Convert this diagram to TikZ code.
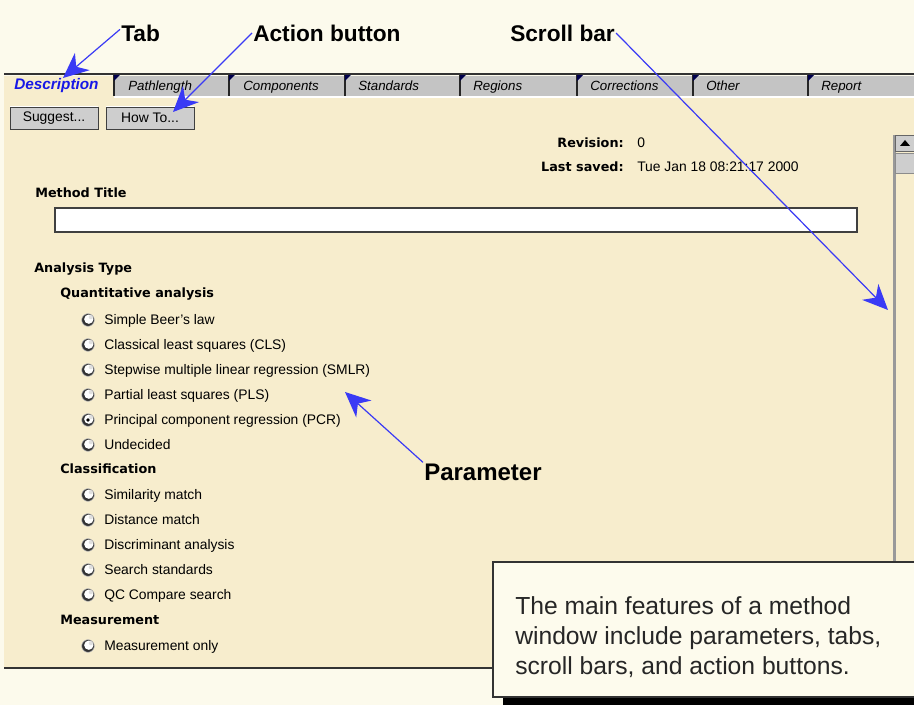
\documentclass[tikz,border=0pt]{standalone}
\usepackage{fontspec}
\setmainfont{Liberation Sans}
\newfontfamily\uiboldfont{DejaVu Sans}
\usepackage{xcolor}
\usepackage{tikz}
\usetikzlibrary{arrows.meta,calc}

\definecolor{pagebg}{RGB}{252,250,236}
\definecolor{panelbg}{RGB}{247,237,205}
\definecolor{tabgrey}{RGB}{196,196,196}
\definecolor{btngrey}{RGB}{206,206,206}
\definecolor{pointblue}{RGB}{58,58,245}
\definecolor{tabblue}{RGB}{24,24,230}
\definecolor{calloutbg}{RGB}{253,251,237}

\tikzset{
  uitext/.style={anchor=west, inner sep=0.75pt, text height=1.6ex, text depth=0.4ex, font=\fontsize{10.4}{12}\selectfont},
  uibold/.style={anchor=west, inner sep=0.75pt, text height=1.6ex, text depth=0.4ex, font=\uiboldfont\fontsize{9.6}{12}\selectfont\bfseries},
  tabtext/.style={anchor=west, inner sep=0.75pt, text height=1.6ex, text depth=0.4ex, font=\fontsize{10}{12}\selectfont\itshape},
  button/.style={draw=black!75, fill=btngrey, minimum width=66pt, minimum height=16.5pt, inner sep=0pt,
    font=\fontsize{10.4}{12}\selectfont,
    path picture={\draw[white, line width=1.2pt] (path picture bounding box.south west) -- (path picture bounding box.north west) -- (path picture bounding box.north east);}},
  radio/.style={circle, draw=black!25, fill=black!80, minimum size=9.5pt, inner sep=0pt,
    path picture={\fill[white] ($(path picture bounding box.center)!0.13!(path picture bounding box.north east)$) circle (3.5pt);
                  \fill[black!12] ($(path picture bounding box.center)!0.45!(path picture bounding box.north east)$) circle (1.6pt);}},
  biglabel/.style={anchor=west, inner sep=0.75pt, font=\fontsize{17}{20}\selectfont\bfseries},
  pointer/.style={draw=pointblue, line width=0.9pt, -{Stealth[length=19pt,width=17pt,inset=6pt]}},
}

\begin{document}
\begin{tikzpicture}[x=0.75pt,y=0.75pt,yscale=-1,xscale=1]
\useasboundingbox (0,0) rectangle (914,705);

%Shape: Page background
\fill[pagebg] (0,0) rectangle (914,705);
%Shape: Window panel
\fill[panelbg] (4,97) rectangle (914,667);
\draw[black!80, line width=1.5] (4,668) -- (914,668);

%Tab strip
\fill[tabgrey] (114,76) rectangle (914,96);
\fill[panelbg] (4,76) rectangle (114,97);
\draw[white, line width=1.2] (114,97) -- (914,97);
\draw[black!80, line width=1.5] (4,74.5) -- (914,74.5);
% Tab dividers
\draw[black!85, line width=1.2] (114,75) -- (114,96);
\draw[black!85, line width=1.2] (229,75) -- (229,96);
\draw[black!85, line width=1.2] (345,75) -- (345,96);
\draw[black!85, line width=1.2] (460,75) -- (460,96);
\draw[black!85, line width=1.2] (577,75) -- (577,96);
\draw[black!85, line width=1.2] (693,75) -- (693,96);
\draw[black!85, line width=1.2] (808,75) -- (808,96);
\fill[black!70!blue] (114,75) -- (120,75) -- (114,81) -- cycle;
\fill[black!70!blue] (229,75) -- (235,75) -- (229,81) -- cycle;
\fill[black!70!blue] (345,75) -- (351,75) -- (345,81) -- cycle;
\fill[black!70!blue] (460,75) -- (466,75) -- (460,81) -- cycle;
\fill[black!70!blue] (577,75) -- (583,75) -- (577,81) -- cycle;
\fill[black!70!blue] (693,75) -- (699,75) -- (693,81) -- cycle;
\fill[black!70!blue] (808,75) -- (814,75) -- (808,81) -- cycle;

% Tab Text
\node[anchor=west, inner sep=0.75pt, text=tabblue, font=\fontsize{11.5}{12}\selectfont\bfseries\itshape] (tabdesc) at (13,86) {Description};
\node[tabtext] (tabpath) at (127,86) {Pathlength};
\node[tabtext] (tabcomp) at (242,86) {Components};
\node[tabtext] (tabstd) at (357,86) {Standards};
\node[tabtext] (tabreg) at (472,86) {Regions};
\node[tabtext] (tabcorr) at (589,86) {Corrections};
\node[tabtext] (tabother) at (705,86) {Other};
\node[tabtext] (tabreport) at (820,86) {Report};

% Buttons
\node[button] (suggest) at (54,118) {Suggest...};
\node[button] (howto) at (150,118) {How To...};

% Text Node
\node[uibold, anchor=east] (revlbl) at (625,143) {Revision:};
\node[uitext] (revval) at (636,143) {0};
\node[uibold, anchor=east] (savedlbl) at (625,167) {Last saved:};
\node[uitext] (savedval) at (636,167) {Tue Jan 18 08:21:17 2000};

% Method title field
\node[uibold] (titlelbl) at (34,193) {Method Title};
\draw[black!75, line width=1.2, fill=white] (55,208) rectangle (857,232);

% Analysis type
\node[uibold] (analysislbl) at (33,268) {Analysis Type};
\node[uibold] (quantlbl) at (59,293) {Quantitative analysis};

\node[radio] (rbeer) at (88,320) {};
\node[uitext] (tbeer) at (103,320) {Simple Beer's law};
\node[radio] (rcls) at (88,345) {};
\node[uitext] (tcls) at (103,345) {Classical least squares (CLS)};
\node[radio] (rsmlr) at (88,370) {};
\node[uitext] (tsmlr) at (103,370) {Stepwise multiple linear regression (SMLR)};
\node[radio] (rpls) at (88,395) {};
\node[uitext] (tpls) at (103,395) {Partial least squares (PLS)};
\node[radio] (rpcr) at (88,420) {};
\fill[black] (rpcr.center) circle (1.9);
\node[uitext] (tpcr) at (103,420) {Principal component regression (PCR)};
\node[radio] (rundec) at (88,445) {};
\node[uitext] (tundec) at (103,445) {Undecided};

\node[uibold] (classlbl) at (59,469) {Classification};
\node[radio] (rsim) at (88,495) {};
\node[uitext] (tsim) at (103,495) {Similarity match};
\node[radio] (rdist) at (88,520) {};
\node[uitext] (tdist) at (103,520) {Distance match};
\node[radio] (rdisc) at (88,545) {};
\node[uitext] (tdisc) at (103,545) {Discriminant analysis};
\node[radio] (rsearch) at (88,570) {};
\node[uitext] (tsearch) at (103,570) {Search standards};
\node[radio] (rqc) at (88,595) {};
\node[uitext] (tqc) at (103,595) {QC Compare search};

\node[uibold] (measlbl) at (59,620) {Measurement};
\node[radio] (rmeas) at (88,646) {};
\node[uitext] (tmeas) at (103,646) {Measurement only};

% Scroll bar
\fill[black!40] (893,135) rectangle (895.5,667);
\filldraw[fill=btngrey, draw=black!60] (895.5,135) rectangle (916,151);
\fill[black] (900,146) -- (910,146) -- (905,140) -- cycle;
\filldraw[fill=btngrey, draw=black!45] (895.5,153) rectangle (916,173);

% Callout
\fill[black] (503,570) rectangle (914,705);
\draw[fill=calloutbg, draw=black!80, line width=1.2] (493,562) rectangle (920,697);
\node[anchor=west, inner sep=0pt, align=left, text=black!85, font=\fontsize{18.5}{22.5}\selectfont] (note) at (515,637) {The main features of a method\\window include parameters, tabs,\\scroll bars, and action buttons.};

% Labels
\node[biglabel] (tablbl) at (120,33) {Tab};
\node[biglabel] (actionlbl) at (252,33) {Action button};
\node[biglabel] (scrolllbl) at (509,33) {Scroll bar};
\node[biglabel, font=\fontsize{18}{20}\selectfont\bfseries] (paramlbl) at (423,472) {Parameter};

\coordinate (tabtip) at (63,78);
\coordinate (actiontip) at (173,112);
\coordinate (scrolltip) at (888,310);
\coordinate (paramtip) at (345,392);

% Pointers
\draw[pointer] (tablbl.170) -- (tabtip);
\draw[pointer] (actionlbl.west) -- (actiontip);
\draw[pointer] (scrolllbl.east) -- (scrolltip);
\draw[pointer] (paramlbl.north west) -- (paramtip);

\end{tikzpicture}
\end{document}
